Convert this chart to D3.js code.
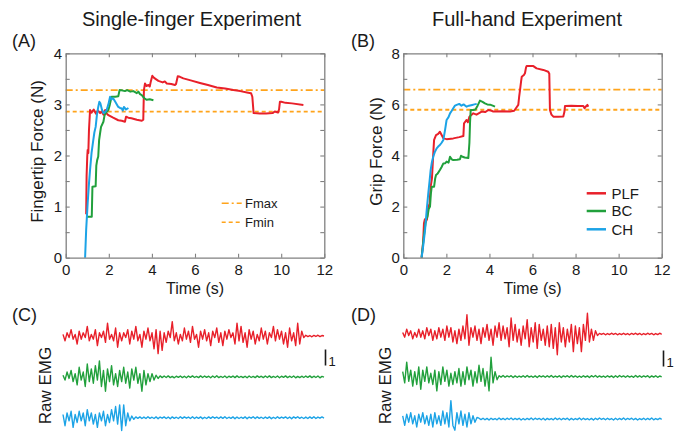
<!DOCTYPE html>
<html><head><meta charset="utf-8">
<script src="https://cdn.jsdelivr.net/npm/d3@7"></script>
<style>
body{margin:0;background:#fff}
svg{display:block}
text{font-family:"Liberation Sans",Arial,sans-serif;fill:#1a1a1a}
</style>
</head><body>
<svg id="c" width="683" height="432"></svg>
<script>
// ---------------- DATA ----------------
const seriesNames = ["PLF", "BC", "CH"];
const timeTicks = [0, 2, 4, 6, 8, 10, 12];
const fingerTicks = [0, 0.5, 1, 1.5, 2, 2.5, 3, 3.5, 4];
const gripTicks = [0, 1, 2, 3, 4, 5, 6, 7, 8];
const thresholdNames = ["Fmax", "Fmin"];
const fingerThresholds = [3.28, 2.86];
const gripThresholds = [6.58, 5.79];

// Single-finger force [time s, force N]
const plfSingle = [[0.95,0.85],[0.97,1.6],[1.0,1.98],[1.02,2.11],[1.05,2.05],[1.08,2.5],[1.13,2.89],[1.2,2.84],[1.3,2.9],[1.4,2.82],[1.5,2.88],[1.6,2.83],[1.67,2.86],[1.75,2.8],[1.83,2.89],[1.9,2.82],[1.98,2.79],[2.2,2.74],[2.44,2.69],[2.6,2.68],[2.75,2.66],[2.8,2.76],[2.9,2.74],[3.05,2.73],[3.3,2.7],[3.53,2.68],[3.6,2.7],[3.63,3.28],[3.68,3.41],[3.75,3.36],[3.84,3.38],[3.9,3.35],[3.95,3.45],[4.02,3.56],[4.1,3.52],[4.3,3.46],[4.5,3.43],[4.6,3.45],[4.69,3.41],[4.9,3.4],[5.07,3.38],[5.12,3.4],[5.2,3.55],[5.3,3.54],[5.46,3.51],[5.8,3.47],[6.23,3.42],[6.6,3.38],[7.01,3.33],[7.4,3.31],[7.78,3.28],[8.1,3.26],[8.47,3.23],[8.6,3.22],[8.66,3.15],[8.72,2.83],[9.0,2.82],[9.3,2.82],[9.6,2.83],[9.7,2.86],[9.85,2.84],[9.9,2.9],[9.94,3.05],[10.0,3.05],[10.2,3.03],[10.5,3.02],[11.03,2.99]];
const bcSingle = [[0.98,0.8],[1.21,0.8],[1.24,1.39],[1.39,1.4],[1.42,1.8],[1.46,1.91],[1.51,1.98],[1.55,2.3],[1.6,2.45],[1.64,2.56],[1.75,2.66],[1.8,2.78],[1.85,2.83],[1.98,2.89],[2.05,3.0],[2.13,3.15],[2.3,3.15],[2.44,3.16],[2.5,3.28],[2.65,3.27],[2.75,3.26],[2.85,3.28],[3.0,3.25],[3.14,3.26],[3.3,3.22],[3.37,3.25],[3.45,3.2],[3.53,3.18],[3.65,3.12],[3.76,3.09],[3.9,3.1],[4.07,3.08]];
const chSingle = [[0.9,0],[0.95,0.55],[1.02,1.07],[1.08,1.45],[1.13,1.72],[1.2,2.05],[1.28,2.3],[1.33,2.45],[1.39,2.56],[1.45,2.8],[1.51,2.95],[1.56,3.05],[1.61,3.02],[1.68,2.9],[1.75,2.83],[1.82,2.85],[1.9,2.89],[1.98,3.0],[2.06,3.15],[2.13,3.1],[2.2,3.12],[2.3,3.05],[2.44,2.95],[2.52,2.93],[2.6,2.92],[2.65,2.88],[2.7,2.95],[2.8,2.9],[2.91,2.93]];

// Full-hand grip force [time s, force N]
const plfFull = [[0.85,0],[0.92,0.6],[0.96,1.35],[1.0,1.5],[1.04,1.4],[1.1,1.5],[1.16,2.0],[1.22,2.1],[1.27,2.78],[1.33,3.1],[1.36,3.56],[1.4,4.2],[1.43,4.61],[1.52,4.8],[1.62,4.85],[1.7,4.93],[1.78,4.8],[1.86,4.67],[2.01,4.64],[2.32,4.67],[2.6,4.72],[2.79,4.76],[2.82,5.26],[2.94,5.39],[3.0,5.3],[3.07,5.52],[3.25,5.65],[3.4,5.6],[3.64,5.72],[3.8,5.7],[3.95,5.78],[4.1,5.75],[4.18,5.72],[4.6,5.73],[4.96,5.72],[5.15,5.75],[5.23,5.85],[5.34,5.98],[5.38,6.3],[5.42,6.56],[5.47,6.9],[5.5,7.08],[5.6,7.15],[5.65,7.22],[5.7,7.45],[5.73,7.5],[6.04,7.5],[6.19,7.41],[6.5,7.35],[6.73,7.28],[6.78,7.2],[6.81,5.78],[6.88,5.6],[6.97,5.52],[7.2,5.52],[7.43,5.53],[7.48,5.7],[7.51,5.94],[7.8,5.95],[8.1,5.94],[8.36,5.94],[8.42,5.85],[8.48,5.92],[8.55,5.98],[8.59,5.91]];
const bcFull = [[0.85,0],[0.95,0.8],[1.01,1.21],[1.06,1.5],[1.12,1.6],[1.18,1.9],[1.24,2.0],[1.28,2.5],[1.32,2.78],[1.43,2.78],[1.48,3.1],[1.52,3.24],[1.6,3.3],[1.7,3.43],[1.78,3.55],[1.86,3.69],[1.95,3.7],[2.01,3.76],[2.1,3.72],[2.17,3.95],[2.25,3.85],[2.32,3.82],[2.5,3.83],[2.63,3.85],[2.68,3.99],[2.75,3.95],[2.85,3.92],[3.02,3.9],[3.07,4.5],[3.1,5.3],[3.13,5.78],[3.25,5.78],[3.35,5.8],[3.45,5.95],[3.56,6.15],[3.68,6.1],[3.79,6.04],[3.9,6.0],[4.03,5.99],[4.15,5.95],[4.26,5.91]];
const chFull = [[0.85,0],[0.93,0.5],[1.01,1.08],[1.08,1.8],[1.16,2.52],[1.22,3.0],[1.27,3.43],[1.33,3.75],[1.39,3.95],[1.47,4.15],[1.55,4.28],[1.62,4.35],[1.7,4.41],[1.78,4.5],[1.86,4.61],[1.94,5.0],[2.01,5.39],[2.1,5.5],[2.17,5.65],[2.25,5.75],[2.32,5.85],[2.4,5.95],[2.48,5.98],[2.6,6.02],[2.7,5.95],[2.8,6.0],[2.94,5.91],[3.05,5.95],[3.2,5.98],[3.3,6.0],[3.41,6.02]];

// Raw EMG samples (scale bar = 1)
const emgPlfSingle = [0.1,-0.3,0.2,-0.1,0.4,-0.2,0.1,-0.5,0.3,-0.2,
0.2,-0.1,0.6,-0.3,0.1,-0.2,0.4,-0.6,0.2,-0.1,
0.3,-0.4,0.8,-0.2,0.1,-0.3,0.5,-0.7,0.2,-0.3,
0.2,-0.1,0.4,-0.5,0.3,-0.2,0.6,-0.3,0.1,-0.7,
0.3,-0.2,0.5,-0.3,0.2,-0.8,0.4,-1.1,0.3,-0.9,
0.2,-0.4,0.3,-0.1,0.9,-0.3,0.2,-0.5,0.1,-0.3,
0.5,-0.2,0.3,-0.4,0.6,-0.2,0.1,-0.7,0.3,-0.2,
0.4,-0.3,0.2,-0.6,0.3,-0.1,0.5,-0.4,0.2,-0.6,
0.3,-0.2,0.4,-0.1,0.2,-0.5,0.8,-0.3,0.6,-0.4,
0.2,-0.7,0.4,-0.2,0.3,-0.5,0.1,-0.3,0.5,-0.2,
0.3,-0.5,0.2,-0.1,0.6,-0.3,0.4,-0.2,0.3,-0.5,
0.2,-0.7,0.5,-0.3,0.2,-0.6,0.8,-0.5,0.3,-0.1,
0.05,-0.04,0.03,-0.05,0.04,-0.03,0.05,-0.04,0.03,0];
const emgBcSingle = [0.1,-0.2,0.3,-0.1,0.4,-0.3,0.2,-0.5,0.6,-0.2,
0.3,-0.6,0.8,-0.3,0.5,-0.4,0.7,-0.2,1.0,-0.6,
0.4,-0.9,0.5,-0.3,0.7,-0.5,0.2,-0.6,0.4,-0.3,
0.6,-0.4,0.3,-0.7,0.5,-0.2,0.6,-0.4,0.2,-0.9,
0.4,-0.5,0.2,-0.3,0.2,-0.2,0.1,-0.1,0.06,-0.05,
0.05,-0.04,0.06,-0.05,0.03,-0.06,0.04,-0.03,0.05,-0.05,
0.04,-0.06,0.05,-0.03,0.06,-0.04,0.03,-0.05,0.06,-0.04,
0.05,-0.03,0.04,-0.06,0.05,-0.04,0.07,-0.05,0.03,-0.04,
0.05,-0.06,0.04,-0.03,0.05,-0.05,0.06,-0.04,0.03,-0.05,
0.04,-0.06,0.05,-0.04,0.03,-0.05,0.06,-0.03,0.04,-0.05,
0.05,-0.04,0.06,-0.05,0.03,-0.04,0.05,-0.06,0.04,-0.03,
0.06,-0.05,0.04,-0.04,0.05,-0.06,0.03,-0.05,0.04,-0.04,
0.05,-0.03,0.06,-0.05,0.04,-0.04,0.05,-0.06,0.03,-0.02];
const emgChSingle = [0.2,-0.5,0.3,-0.2,0.4,-0.6,0.2,-0.3,0.4,-0.2,
0.3,-0.5,0.5,-0.2,0.3,-0.4,0.2,-0.6,0.3,-0.2,
0.4,-0.5,0.2,-0.3,0.5,-0.2,0.7,-0.4,0.8,-0.8,
0.8,-0.5,0.3,-0.2,0.1,-0.1,0.05,-0.04,0.05,-0.05,
0.04,-0.05,0.06,-0.04,0.03,-0.05,0.05,-0.06,0.04,-0.03,
0.05,-0.05,0.04,-0.06,0.05,-0.04,0.03,-0.05,0.06,-0.04,
0.05,-0.03,0.04,-0.05,0.06,-0.05,0.04,-0.04,0.05,-0.06,
0.03,-0.05,0.05,-0.04,0.06,-0.03,0.04,-0.05,0.05,-0.04,
0.06,-0.05,0.03,-0.04,0.05,-0.06,0.04,-0.05,0.03,-0.04,
0.05,-0.06,0.04,-0.03,0.06,-0.05,0.05,-0.04,0.03,-0.05,
0.04,-0.04,0.05,-0.06,0.03,-0.05,0.06,-0.04,0.04,-0.03,
0.05,-0.05,0.04,-0.06,0.05,-0.03,0.06,-0.04,0.03,-0.05,
0.04,-0.05,0.05,-0.04,0.06,-0.05,0.04,-0.03,0.05,-0.02];
const emgPlfFull = [0.1,-0.2,0.3,-0.1,0.2,-0.3,0.1,-0.2,0.3,-0.2,
0.2,-0.3,0.4,-0.1,0.3,-0.4,0.2,-0.3,0.4,-0.2,
0.3,-0.4,0.5,-0.2,0.4,-0.5,0.2,-0.6,0.3,-0.4,
0.5,-0.3,1.2,-0.7,0.4,-0.2,0.5,-0.4,0.3,-0.6,
0.4,-0.2,0.6,-0.4,0.3,-0.7,0.5,-0.2,0.7,-0.4,
0.5,-0.3,0.4,-0.8,1.0,-0.4,0.6,-0.5,0.3,-0.7,
0.5,-0.3,0.9,-0.8,0.4,-0.5,0.7,-0.9,0.6,-0.4,
0.3,-0.7,0.5,-0.8,0.6,-0.9,0.4,-1.3,0.7,-0.5,
0.4,-0.8,0.3,-0.5,0.6,-1.1,0.5,-0.6,0.4,-1.1,
0.6,-0.4,1.3,-0.5,0.3,-0.4,0.2,-0.1,0.04,-0.03,
0.04,-0.05,0.03,-0.04,0.05,-0.03,0.04,-0.05,0.03,-0.04,
0.05,-0.04,0.03,-0.05,0.04,-0.03,0.05,-0.04,0.04,-0.05,
0.03,-0.04,0.05,-0.03,0.04,-0.05,0.03,-0.04,0.05,-0.02];
const emgBcFull = [0.3,-0.4,0.9,-0.3,0.4,-0.6,0.3,-0.5,0.6,-0.8,
0.4,-0.3,0.6,-0.4,0.2,-0.5,0.4,-0.9,0.3,-0.5,
0.6,-0.3,0.4,-0.6,0.2,-0.5,0.3,-0.4,0.5,-0.6,
0.3,-0.5,0.6,-0.2,0.4,-0.6,0.3,-0.4,0.7,-0.3,
0.5,-0.6,0.3,-0.9,1.2,-0.4,0.3,-0.2,0.05,-0.04,
0.06,-0.05,0.04,-0.03,0.05,-0.06,0.04,-0.05,0.03,-0.04,
0.05,-0.05,0.06,-0.04,0.03,-0.05,0.04,-0.06,0.05,-0.03,
0.04,-0.05,0.05,-0.04,0.06,-0.05,0.03,-0.04,0.05,-0.06,
0.04,-0.03,0.05,-0.05,0.06,-0.04,0.04,-0.05,0.03,-0.05,
0.05,-0.04,0.04,-0.06,0.05,-0.03,0.06,-0.05,0.04,-0.04,
0.03,-0.05,0.05,-0.04,0.04,-0.06,0.05,-0.05,0.06,-0.03,
0.04,-0.05,0.05,-0.04,0.03,-0.05,0.06,-0.04,0.05,-0.05,
0.04,-0.03,0.05,-0.06,0.04,-0.04,0.05,-0.05,0.03,-0.02];
const emgChFull = [0.2,-0.4,0.3,-0.2,0.4,-0.3,0.2,-0.5,0.3,-0.2,
0.4,-0.3,0.2,-0.4,0.3,-0.5,0.4,-0.3,0.2,-0.4,
0.5,-0.3,0.4,-0.5,1.15,-0.4,-0.7,0.4,-0.3,0.5,
-0.4,0.3,-0.5,0.4,-0.3,0.2,-0.2,0.1,0.05,-0.04,
0.05,-0.05,0.04,-0.06,0.05,-0.04,0.03,-0.05,0.06,-0.04,
0.04,-0.05,0.05,-0.03,0.06,-0.05,0.04,-0.04,0.05,-0.06,
0.03,-0.05,0.04,-0.04,0.06,-0.05,0.05,-0.03,0.04,-0.05,
0.05,-0.06,0.04,-0.04,0.03,-0.05,0.06,-0.04,0.05,-0.05,
0.04,-0.03,0.05,-0.06,0.04,-0.05,0.03,-0.04,0.06,-0.05,
0.05,-0.04,0.03,-0.05,0.04,-0.06,0.05,-0.04,0.06,-0.03,
0.04,-0.05,0.05,-0.04,0.03,-0.06,0.05,-0.05,0.04,-0.04,
0.06,-0.05,0.04,-0.03,0.05,-0.05,0.04,-0.06,0.03,-0.04,
0.05,-0.05,0.04,-0.04,0.06,-0.05,0.03,-0.04,0.05,-0.02];

// ---------------- STYLE ----------------
const colors = {PLF:"#E8202A", BC:"#21A03C", CH:"#1CA3E6"};
const orange = "#FFA41B";
const axisGray = "#808080";

const svg = d3.select("#c");

function forcePanel(o){
  const g = svg.append("g");
  const x = d3.scaleLinear().domain([0,12]).range([o.left,o.right]);
  const y = d3.scaleLinear().domain([0,o.ymax]).range([257.7,53.3]);

  const dashes = ["7,3,2,3","4,3"];
  o.thresholds.forEach((v,i)=>{
    g.append("line").attr("x1",x(0)).attr("x2",x(12)).attr("y1",y(v)).attr("y2",y(v))
      .attr("stroke",orange).attr("stroke-width",1.8).attr("stroke-dasharray",dashes[i]);
  });

  const line = d3.line().x(d=>x(d[0])).y(d=>y(d[1]));
  o.series.forEach((s,i)=>{
    g.append("path").datum(s).attr("d",line).attr("fill","none")
      .attr("stroke",colors[seriesNames[i]]).attr("stroke-width",2).attr("stroke-linejoin","round");
  });

  const styleAxis = sel=>{
    sel.selectAll(".domain").attr("stroke",axisGray).attr("stroke-width",1.3);
    sel.selectAll(".tick line").attr("stroke",axisGray).attr("stroke-width",1.1);
    sel.selectAll("text").attr("font-size",15).attr("fill","#1a1a1a").attr("font-family",null);
  };
  g.append("g").attr("transform",`translate(0,${y(0)})`)
    .call(d3.axisBottom(x).tickValues(timeTicks).tickSize(-4).tickSizeOuter(0).tickPadding(7).tickFormat(d3.format("d")))
    .call(styleAxis);
  g.append("g").attr("transform",`translate(0,${y(o.ymax)})`)
    .call(d3.axisTop(x).tickValues(timeTicks).tickSize(-4).tickSizeOuter(0).tickFormat(""))
    .call(styleAxis);
  g.append("g").attr("transform",`translate(${x(0)},0)`)
    .call(d3.axisLeft(y).tickValues(o.ticks).tickSize(-4).tickSizeOuter(0).tickPadding(3.5)
      .tickFormat(d=> (d % o.labelStep === 0 ? d3.format("d")(d) : "")))
    .call(styleAxis);
  g.append("g").attr("transform",`translate(${x(12)},0)`)
    .call(d3.axisRight(y).tickValues(o.ticks).tickSize(-4).tickSizeOuter(0).tickFormat(""))
    .call(styleAxis);

  g.append("text").attr("x",o.titleX).attr("y",26).attr("text-anchor","middle")
    .attr("font-size",20).text(o.title);
  g.append("text").attr("x",o.letterX).attr("y",47).attr("font-size",18).text(o.letter);
  g.append("text").attr("x",(o.left+o.right)/2).attr("y",294).attr("text-anchor","middle")
    .attr("font-size",16).text("Time (s)");
  g.append("text").attr("transform",`translate(${o.ylabX},151.5) rotate(-90)`)
    .attr("text-anchor","middle").attr("dy","0.35em").attr("font-size",17).text(o.ylabel);
  return {g,x,y};
}

// Panel A
const A = forcePanel({left:65.7,right:324.3,ymax:4,ticks:fingerTicks,labelStep:1,
  series:[plfSingle,bcSingle,chSingle],thresholds:fingerThresholds,
  title:"Single-finger Experiment",titleX:191.5,letter:"(A)",letterX:12,
  ylabel:"Fingertip Force (N)",ylabX:36.7});
const dashesL = ["7,3,2,3","4,3"];
thresholdNames.forEach((n,i)=>{
  const yy = [203.3,222.3][i];
  A.g.append("line").attr("x1",221.7).attr("x2",241.7).attr("y1",yy).attr("y2",yy)
    .attr("stroke",orange).attr("stroke-width",1.6).attr("stroke-dasharray",dashesL[i]);
  A.g.append("text").attr("x",245).attr("y",yy).attr("dy","0.35em").attr("font-size",13)
    .attr("fill","#333").text(n);
});

// Panel B
const B = forcePanel({left:403.3,right:661.7,ymax:8,ticks:gripTicks,labelStep:2,
  series:[plfFull,bcFull,chFull],thresholds:gripThresholds,
  title:"Full-hand Experiment",titleX:527,letter:"(B)",letterX:351,
  ylabel:"Grip Force (N)",ylabX:376});
seriesNames.forEach((n,i)=>{
  const yy = [193.3,211,229.3][i];
  B.g.append("line").attr("x1",586.7).attr("x2",606).attr("y1",yy).attr("y2",yy)
    .attr("stroke",colors[n]).attr("stroke-width",2.5);
  B.g.append("text").attr("x",611.5).attr("y",yy).attr("dy","0.35em").attr("font-size",15).text(n);
});

// EMG panels
function emgPanel(o){
  const g = svg.append("g");
  const n = o.traces[0].length;
  const x = d3.scaleLinear().domain([0,n-1]).range([o.left,o.right]);
  const base = d3.scalePoint().domain(seriesNames).range(o.baseRange);
  const amp = d3.scaleLinear().domain([-1,1]).range([16,-16]);
  o.traces.forEach((tr,i)=>{
    const b = base(seriesNames[i]);
    g.append("path").datum(tr).attr("fill","none")
      .attr("stroke",colors[seriesNames[i]]).attr("stroke-width",1.4).attr("stroke-linejoin","round")
      .attr("d",d3.line().x((d,j)=>x(j)).y(d=>b+amp(d)));
  });
  g.append("line").attr("x1",o.barX).attr("x2",o.barX)
    .attr("y1",o.barY+amp(0)).attr("y2",o.barY+amp(1))
    .attr("stroke","#1a1a1a").attr("stroke-width",1.6);
  g.append("text").attr("x",o.barX+3).attr("y",o.barY+amp(0)).attr("font-size",13).text("1");
  g.append("text").attr("x",o.letterX).attr("y",321).attr("font-size",18).text(o.letter);
  g.append("text").attr("transform",`translate(${o.ylabX},385.5) rotate(-90)`)
    .attr("text-anchor","middle").attr("dy","0.35em").attr("font-size",17).text("Raw EMG");
}
emgPanel({left:63,right:324,baseRange:[336,417.7],traces:[emgPlfSingle,emgBcSingle,emgChSingle],
  barX:325.5,barY:365.5,letter:"(C)",letterX:12,ylabX:45.5});
emgPanel({left:402.7,right:661.7,baseRange:[334,419],traces:[emgPlfFull,emgBcFull,emgChFull],
  barX:663.5,barY:366.5,letter:"(D)",letterX:351,ylabX:385.5});
</script>
</body></html>
